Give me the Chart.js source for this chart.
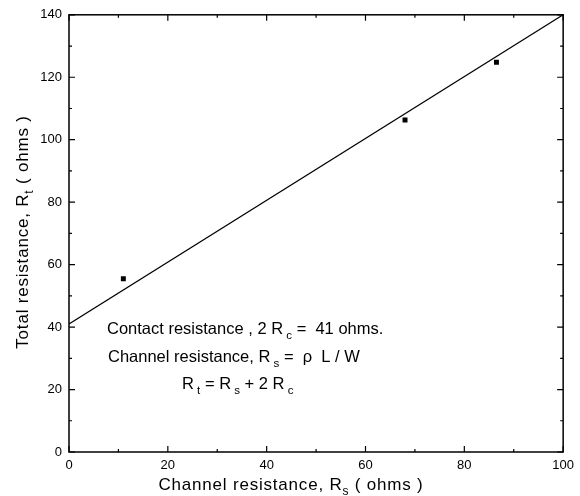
<!DOCTYPE html>
<html>
<head>
<meta charset="utf-8">
<script src="https://cdn.jsdelivr.net/npm/chart.js@4/dist/chart.umd.min.js"></script>
<style>
html,body{margin:0;padding:0;background:#fff;}
#wrap{width:580px;height:496px;position:relative;}
</style>
</head>
<body>
<div id="wrap"><canvas id="c" width="580" height="496"></canvas></div>
<script>
// Measured points
const channelRes = [11, 68, 86.5];
const totalRes = [55.5, 106.3, 124.8];
// Least-squares fit line end points
const fitX = [0, 100];
const fitY = [41, 140];
// Axis ranges / ticks
const xMin = 0, xMax = 100, xStep = 20, xMinor = 10;
const yMin = 0, yMax = 140, yStep = 20, yMinor = 10;

const FONT = '"Liberation Sans", Arial, Helvetica, sans-serif';

function drawRich(ctx, parts, x, y, size) {
  let cx = x;
  for (const [t, sub] of parts) {
    const s = sub ? size * 0.7 : size;
    ctx.font = s + 'px ' + FONT;
    ctx.fillText(t, cx, sub ? y + size * 0.3 : y);
    cx += ctx.measureText(t).width;
  }
  return cx - x;
}
function richWidth(ctx, parts, size) {
  let w = 0;
  for (const [t, sub] of parts) {
    const s = sub ? size * 0.7 : size;
    ctx.font = s + 'px ' + FONT;
    w += ctx.measureText(t).width;
  }
  return w;
}

const framePlugin = {
  id: 'frame',
  afterDatasetsDraw(chart) {
    const ctx = chart.ctx;
    const a = chart.chartArea;
    const xs = chart.scales.x, ys = chart.scales.y;
    ctx.save();
    ctx.strokeStyle = '#000';
    ctx.lineWidth = 1.5;
    ctx.strokeRect(a.left, a.top, a.right - a.left, a.bottom - a.top);
    ctx.lineWidth = 1.2;
    ctx.beginPath();
    for (let v = xMin; v <= xMax; v += xMinor) {
      const px = xs.getPixelForValue(v);
      const L = (v % xStep === 0) ? 6 : 3;
      ctx.moveTo(px, a.bottom); ctx.lineTo(px, a.bottom - L);
      ctx.moveTo(px, a.top); ctx.lineTo(px, a.top + L);
    }
    for (let v = yMin; v <= yMax; v += yMinor) {
      const py = ys.getPixelForValue(v);
      const L = (v % yStep === 0) ? 6 : 3;
      ctx.moveTo(a.left, py); ctx.lineTo(a.left + L, py);
      ctx.moveTo(a.right, py); ctx.lineTo(a.right - L, py);
    }
    ctx.stroke();

    ctx.fillStyle = '#000';
    ctx.textBaseline = 'alphabetic';
    ctx.textAlign = 'left';
    // Annotations
    drawRich(ctx, [['Contact resistance , 2 R', false], [' c', true], [' =  41 ohms.', false]], 107, 334, 16.5);
    drawRich(ctx, [['Channel resistance, R', false], [' s', true], [' =  \u03c1  L / W', false]], 108, 362, 16.5);
    drawRich(ctx, [['R', false], [' t', true], [' = R', false], [' s', true], [' + 2 R', false], [' c', true]], 182, 389, 16.5);

    // Axis titles
    ctx.letterSpacing = '0.8px';
    const xt = [['Channel resistance, R', false], ['s', true], [' ( ohms )', false]];
    const xw = richWidth(ctx, xt, 17);
    drawRich(ctx, xt, 291 - xw / 2, 490, 17);

    const yt = [['Total resistance, R', false], ['t', true], [' ( ohms )', false]];
    const yw = richWidth(ctx, yt, 17);
    ctx.translate(28, 232);
    ctx.rotate(-Math.PI / 2);
    drawRich(ctx, yt, -yw / 2, 0, 17);
    ctx.restore();
  }
};

new Chart(document.getElementById('c'), {
  type: 'scatter',
  data: {
    datasets: [
      {
        type: 'line',
        data: fitX.map((x, i) => ({x, y: fitY[i]})),
        borderColor: '#000',
        borderWidth: 1.3,
        pointRadius: 0,
        fill: false,
        tension: 0
      },
      {
        data: channelRes.map((x, i) => ({x, y: totalRes[i]})),
        pointStyle: 'rect',
        pointRadius: 3.5,
        backgroundColor: '#000',
        borderColor: '#000',
        borderWidth: 0
      }
    ]
  },
  options: {
    responsive: false,
    animation: false,
    events: [],
    layout: { padding: { top: 12, right: 16, left: 0, bottom: 0 } },
    plugins: { legend: { display: false }, tooltip: { enabled: false } },
    scales: {
      x: {
        type: 'linear', min: xMin, max: xMax,
        grid: { display: false, drawTicks: false },
        border: { display: false },
        ticks: { stepSize: xStep, color: '#000', padding: 6, maxRotation: 0,
                 font: { family: FONT, size: 13 } },
        afterFit(s) { s.height = 44; }
      },
      y: {
        type: 'linear', min: yMin, max: yMax,
        grid: { display: false, drawTicks: false },
        border: { display: false },
        ticks: { stepSize: yStep, color: '#000', padding: 7,
                 font: { family: FONT, size: 13 } },
        afterFit(s) { s.width = 69; }
      }
    }
  },
  plugins: [framePlugin]
});
</script>
</body>
</html>
